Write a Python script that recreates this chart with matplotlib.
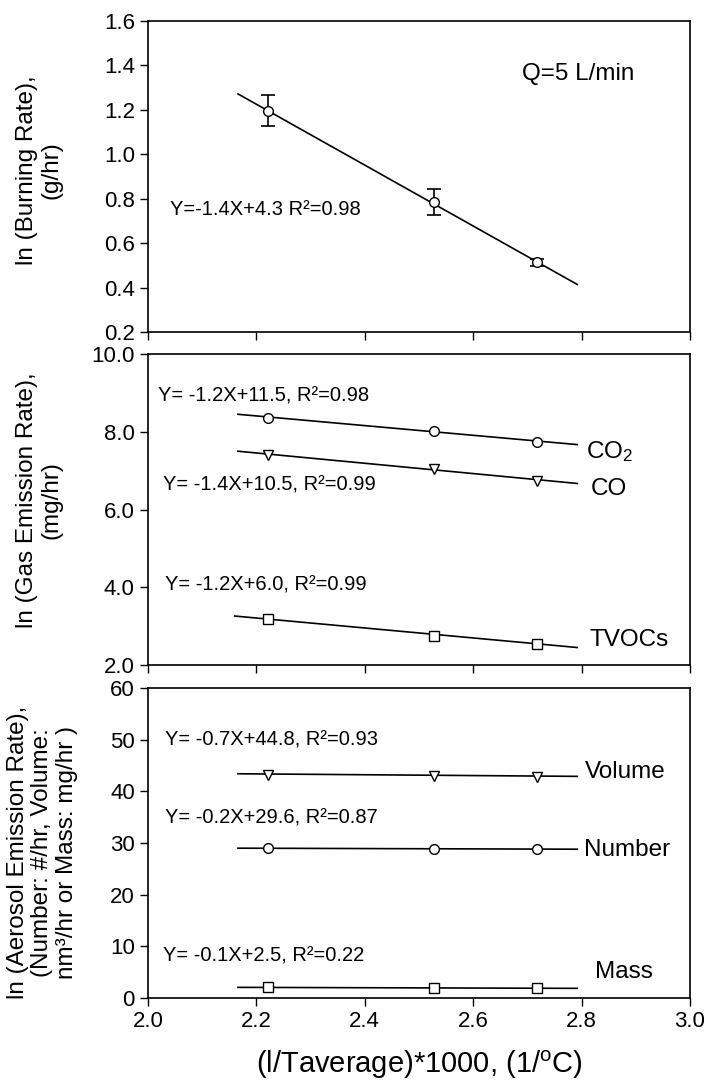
import matplotlib
matplotlib.use("Agg")
import matplotlib.pyplot as plt

plt.rcParams['font.family'] = ['Liberation Sans', 'DejaVu Sans']
plt.rcParams['mathtext.fontset'] = 'custom'
plt.rcParams['mathtext.rm'] = 'Liberation Sans'
plt.rcParams['mathtext.it'] = 'Liberation Sans:italic'

# x values, (1/Taverage)*1000
x_temp = [2.222, 2.527, 2.717]
fit_x = [2.166, 2.792]

# burning rate panel
burn = [1.197, 0.786, 0.514]
burn_err = [0.068, 0.060, 0.015]
burn_fit = [1.272, 0.414]

# gas emission panel
co2 = [8.36, 8.03, 7.74]
co = [7.40, 7.04, 6.73]
tvoc = [3.18, 2.75, 2.55]
co2_fit = [8.45, 7.67]
co_fit = [7.50, 6.67]
tvoc_fit = [3.26, 2.45]

# aerosol emission panel
volume = [43.2, 42.9, 42.8]
number = [29.0, 28.9, 28.9]
mass = [2.06, 1.94, 1.94]
volume_fit = [43.4, 42.9]
number_fit = [29.0, 28.8]
mass_fit = [2.06, 1.87]

x_ticks = [2.0, 2.2, 2.4, 2.6, 2.8, 3.0]
burn_ticks = [0.2, 0.4, 0.6, 0.8, 1.0, 1.2, 1.4, 1.6]
gas_ticks = [2.0, 4.0, 6.0, 8.0, 10.0]
aer_ticks = [0, 10, 20, 30, 40, 50, 60]

fig = plt.figure(figsize=(7.07, 10.9), dpi=100)
left, width = 0.2093, 0.7667
ax1 = fig.add_axes([left, 0.6954, width, 0.2853])
ax2 = fig.add_axes([left, 0.3899, width, 0.2853])
ax3 = fig.add_axes([left, 0.0844, width, 0.2844])

lw = 1.2
mk = dict(mfc='white', mec='black', mew=1.0, ms=7, ls='none', zorder=3)

# top panel
ax1.plot(fit_x, burn_fit, color='black', lw=lw)
ax1.errorbar(x_temp, burn, yerr=burn_err, fmt='o', color='black', ecolor='black',
             elinewidth=1.2, capsize=5, capthick=1.2, mfc='white', mec='black', ms=7, zorder=3)
ax1.text(2.04, 0.75, 'Y=-1.4X+4.3 R²=0.98', fontsize=14.5, va='center')
ax1.text(2.69, 1.36, 'Q=5 L/min', fontsize=17.5, va='center')
ax1.set_ylim(0.2, 1.6)
ax1.set_yticks(burn_ticks)
ax1.set_yticklabels(['%.1f' % v for v in burn_ticks])

# middle panel
ax2.plot(fit_x, co2_fit, color='black', lw=lw)
ax2.plot(fit_x, co_fit, color='black', lw=lw)
ax2.plot([2.160, 2.792], tvoc_fit, color='black', lw=lw)
ax2.plot(x_temp, co2, marker='o', **mk)
ax2.plot(x_temp, co, marker='v', **mk)
ax2.plot(x_temp, tvoc, marker='s', **mk)
ax2.text(2.018, 8.92, 'Y= -1.2X+11.5, R²=0.98', fontsize=14.5, va='center')
ax2.text(2.028, 6.63, 'Y= -1.4X+10.5, R²=0.99', fontsize=14.5, va='center')
ax2.text(2.032, 4.05, 'Y= -1.2X+6.0, R²=0.99', fontsize=14.5, va='center')
ax2.text(2.809, 7.50, r'CO$_2$', fontsize=17.5, va='center')
ax2.text(2.816, 6.54, 'CO', fontsize=17.5, va='center')
ax2.text(2.815, 2.64, 'TVOCs', fontsize=17.5, va='center')
ax2.set_ylim(2.0, 10.0)
ax2.set_yticks(gas_ticks)
ax2.set_yticklabels(['%.1f' % v for v in gas_ticks])

# bottom panel
ax3.plot(fit_x, volume_fit, color='black', lw=lw)
ax3.plot(fit_x, number_fit, color='black', lw=lw)
ax3.plot(fit_x, mass_fit, color='black', lw=lw)
ax3.plot(x_temp, volume, marker='v', **mk)
ax3.plot(x_temp, number, marker='o', **mk)
ax3.plot(x_temp, mass, marker='s', **mk)
ax3.text(2.032, 49.9, 'Y= -0.7X+44.8, R²=0.93', fontsize=14.5, va='center')
ax3.text(2.032, 34.8, 'Y= -0.2X+29.6, R²=0.87', fontsize=14.5, va='center')
ax3.text(2.028, 8.2, 'Y= -0.1X+2.5, R²=0.22', fontsize=14.5, va='center')
ax3.text(2.806, 43.7, 'Volume', fontsize=17.5, va='center')
ax3.text(2.804, 28.7, 'Number', fontsize=17.5, va='center')
ax3.text(2.824, 5.0, 'Mass', fontsize=17.5, va='center')
ax3.set_ylim(0, 60)
ax3.set_yticks(aer_ticks)

for ax in (ax1, ax2, ax3):
    ax.set_xlim(2.0, 3.0)
    ax.set_xticks(x_ticks)
    ax.tick_params(direction='out', length=6, width=1.0, labelsize=16,
                   top=False, right=False)
    for s in ax.spines.values():
        s.set_linewidth(1.2)
ax1.set_xticklabels([])
ax2.set_xticklabels([])
ax3.set_xticklabels(['%.1f' % v for v in x_ticks])
ax3.set_xlabel(r'(l/Taverage)*1000, (1/$^{\mathrm{o}}$C)', fontsize=21, labelpad=12)

ylab = dict(rotation=90, ha='center', va='center', fontsize=17.5,
            multialignment='center', linespacing=1.15)
ax1.text(-0.2, 0.52, 'ln (Burning Rate),\n(g/hr)', transform=ax1.transAxes, **ylab)
ax2.text(-0.2, 0.53, 'ln (Gas Emission Rate),\n(mg/hr)', transform=ax2.transAxes, **ylab)
ax3.text(-0.195, 0.47, 'ln (Aerosol Emission Rate),\n(Number: #/hr, Volume:\nnm³/hr or Mass: mg/hr )',
         transform=ax3.transAxes, **ylab)

fig.savefig('out.png', dpi=100)
